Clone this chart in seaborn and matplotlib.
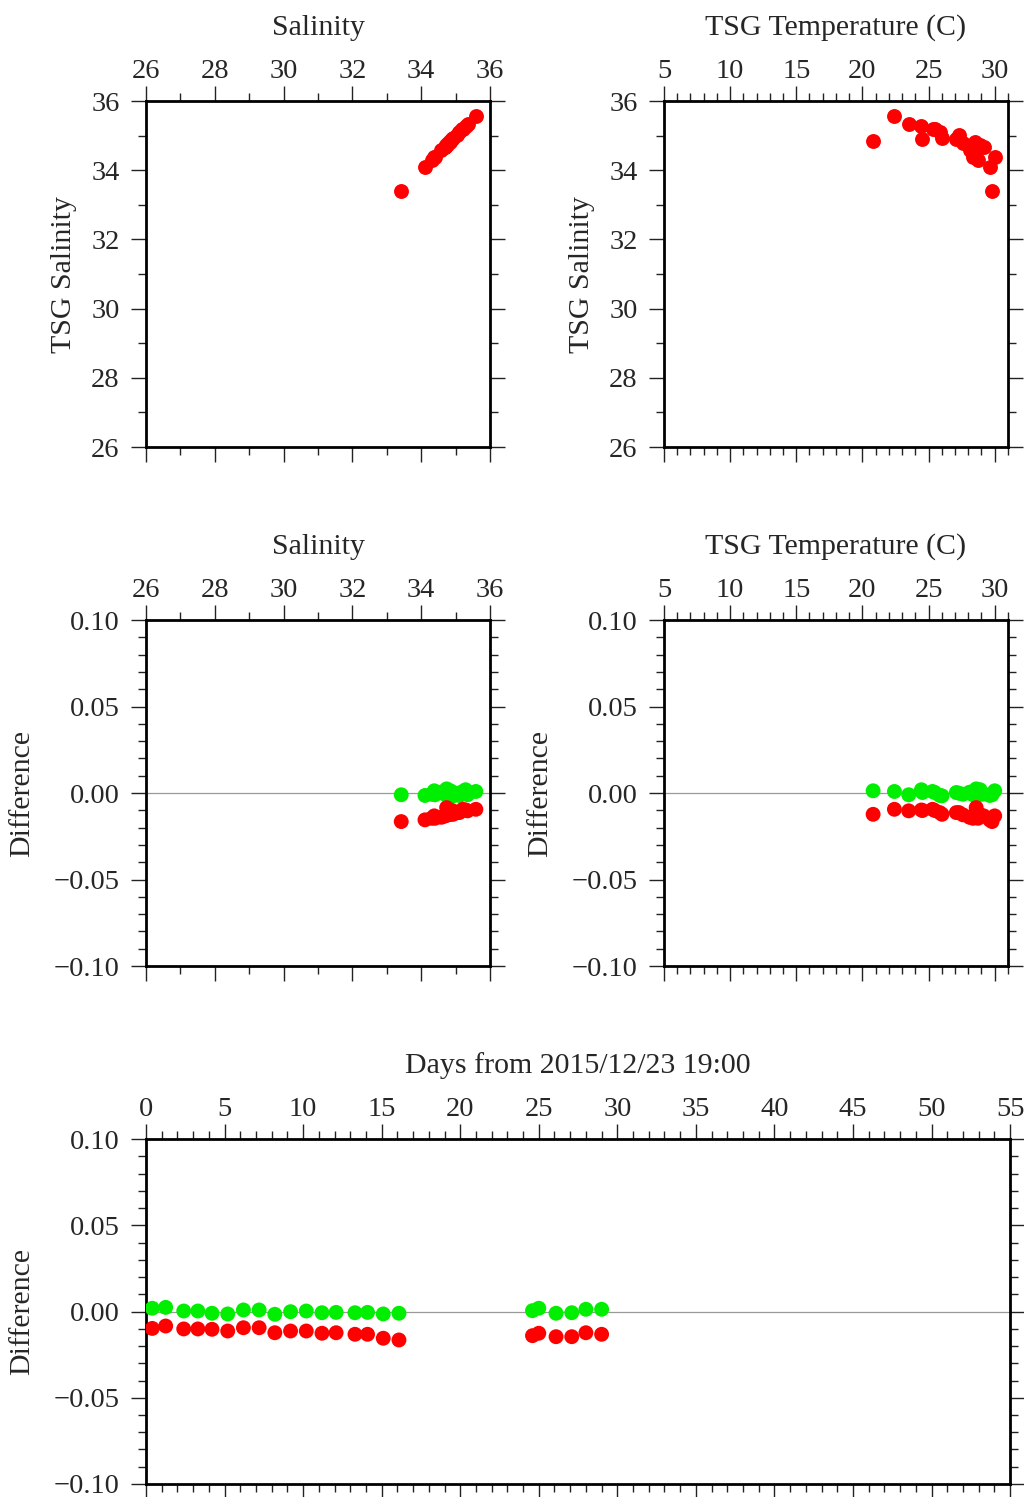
import pandas as pd
import numpy as np
import matplotlib
matplotlib.use("Agg")
import matplotlib.pyplot as plt
import matplotlib.ticker as mticker
import seaborn as sns

# --- TSG vs bottle salinity comparison (5 panels, GMT-like look) ---

# sample times (days from 2015/12/23 19:00)
days = [0.4, 1.25, 2.4, 3.3, 4.2, 5.2, 6.2, 7.2, 8.2, 9.2, 10.2, 11.2, 12.1,
        13.3, 14.1, 15.1, 16.1,
        24.6, 25.0, 26.1, 27.1, 28.0, 29.0]

# bottle salinity (x of salinity panels)
salinity = [35.29, 34.74, 34.90, 35.19, 35.35, 35.11, 35.59, 35.21, 34.93,
            35.03, 34.90, 34.79, 34.83, 34.69, 34.69, 34.11, 33.42,
            34.59, 34.73, 34.40, 34.30, 34.85, 34.38]

# TSG salinity and temperature
tsg_salinity = [35.28, 34.73, 34.89, 35.18, 35.34, 35.10, 35.58, 35.20, 34.92,
                35.02, 34.89, 34.78, 34.82, 34.68, 34.68, 34.10, 33.41,
                34.58, 34.72, 34.39, 34.29, 34.84, 34.37]
tsg_temp = [24.46, 28.60, 24.54, 25.47, 23.50, 25.85, 22.42, 25.30, 26.02,
            27.30, 27.10, 27.60, 28.49, 28.99, 29.17, 29.62, 29.80,
            28.10, 28.90, 28.36, 28.74, 20.81, 30.00]

# differences (green = corrected, red = raw)
diff_green = [0.0019, 0.0024, 0.0003, 0.0003, -0.0010, -0.0014, 0.0009, 0.0009,
              -0.0016, -0.0001, 0.0003, -0.0007, -0.0005, -0.0007, -0.0005,
              -0.0014, -0.0010,
              0.0005, 0.0019, -0.0010, -0.0007, 0.0013, 0.0013]
diff_red = [-0.0098, -0.0084, -0.0101, -0.0101, -0.0103, -0.0113, -0.0094,
            -0.0094, -0.0123, -0.0113, -0.0113, -0.0126, -0.0123, -0.0132,
            -0.0132, -0.0155, -0.0165,
            -0.0140, -0.0126, -0.0146, -0.0146, -0.0123, -0.0132]

df = pd.DataFrame({"days": days, "salinity": salinity, "tsg_sal": tsg_salinity,
                   "tsg_temp": tsg_temp, "green": diff_green, "red": diff_red})
df_long = df.melt(id_vars=["days", "salinity", "tsg_sal", "tsg_temp"],
                  value_vars=["green", "red"], var_name="series", value_name="diff")

PALETTE = {"green": "#00ee00", "red": "#ff0000"}
MS = 115

sns.set_style("ticks")
plt.rcParams["font.family"] = ["Liberation Serif", "DejaVu Serif"]
plt.rcParams["axes.unicode_minus"] = True

fig = plt.figure(figsize=(10.24, 14.97), dpi=100)

W = 0.3359
H = 0.2311
ax1 = fig.add_axes([0.1426, 0.7014, W, H])
ax2 = fig.add_axes([0.6484, 0.7014, W, H])
ax3 = fig.add_axes([0.1426, 0.3547, W, H])
ax4 = fig.add_axes([0.6484, 0.3547, W, H])
ax5 = fig.add_axes([0.1426, 0.0087, 0.8438, 0.2304])


def minus_fmt(fmt):
    def f(v, pos):
        s = fmt.format(v)
        if float(s) == 0:
            s = s.replace("-", "")
        return s.replace("-", "\u2212")
    return mticker.FuncFormatter(f)


def style(ax, xlim, xmaj, xmin, ylim, ymaj, ymin, xlabel, ylabel, yfmt, ylabelpad):
    ax.set_xlim(*xlim)
    ax.set_ylim(*ylim)
    ax.xaxis.set_major_locator(mticker.MultipleLocator(xmaj))
    ax.xaxis.set_minor_locator(mticker.MultipleLocator(xmin))
    ax.yaxis.set_major_locator(mticker.MultipleLocator(ymaj))
    ax.yaxis.set_minor_locator(mticker.MultipleLocator(ymin))
    ax.yaxis.set_major_formatter(minus_fmt(yfmt))
    ax.xaxis.set_major_formatter(minus_fmt("{:.0f}"))
    ax.tick_params(which="both", direction="out", top=True, bottom=True,
                   left=True, right=True, labeltop=True, labelbottom=False,
                   color="#222222", width=1.0, labelsize=20.5)
    ax.tick_params(which="major", length=11, pad=1.5)
    ax.tick_params(axis="y", which="major", pad=8)
    ax.tick_params(which="minor", length=5.5)
    ax.xaxis.set_label_position("top")
    ax.set_xlabel(xlabel, fontsize=21.5, labelpad=17)
    ax.set_ylabel(ylabel, fontsize=21.5, labelpad=ylabelpad)
    for sp in ax.spines.values():
        sp.set_linewidth(2.0)
        sp.set_color("black")
        sp.set_visible(True)
    if ax.get_legend() is not None:
        ax.get_legend().remove()


# panel 1: salinity vs TSG salinity
sns.scatterplot(data=df, x="salinity", y="tsg_sal", color=PALETTE["red"],
                s=MS, linewidth=0, ax=ax1, zorder=3, clip_on=False)
style(ax1, (26, 36), 2, 1, (26, 36), 2, 1, "Salinity", "TSG Salinity", "{:.0f}", 10)

# panel 2: TSG temperature vs TSG salinity
sns.scatterplot(data=df, x="tsg_temp", y="tsg_sal", color=PALETTE["red"],
                s=MS, linewidth=0, ax=ax2, zorder=3, clip_on=False)
style(ax2, (5, 31), 5, 1, (26, 36), 2, 1, "TSG Temperature (C)", "TSG Salinity", "{:.0f}", 10)

# difference panels
for ax, xcol in [(ax3, "salinity"), (ax4, "tsg_temp"), (ax5, "days")]:
    ax.axhline(0, color="#9a9a9a", lw=0.9, zorder=1)
    sns.scatterplot(data=df_long, x=xcol, y="diff", hue="series", palette=PALETTE,
                    s=MS, linewidth=0, ax=ax, zorder=3, legend=False)

style(ax3, (26, 36), 2, 1, (-0.1, 0.1), 0.05, 0.01, "Salinity", "Difference", "{:.2f}", 13)
style(ax4, (5, 31), 5, 1, (-0.1, 0.1), 0.05, 0.01, "TSG Temperature (C)", "Difference", "{:.2f}", 13)
style(ax5, (0, 55), 5, 1, (-0.1, 0.1), 0.05, 0.01, "Days from 2015/12/23 19:00", "Difference", "{:.2f}", 13)

fig.savefig("out.png", dpi=100)
plt.close(fig)
